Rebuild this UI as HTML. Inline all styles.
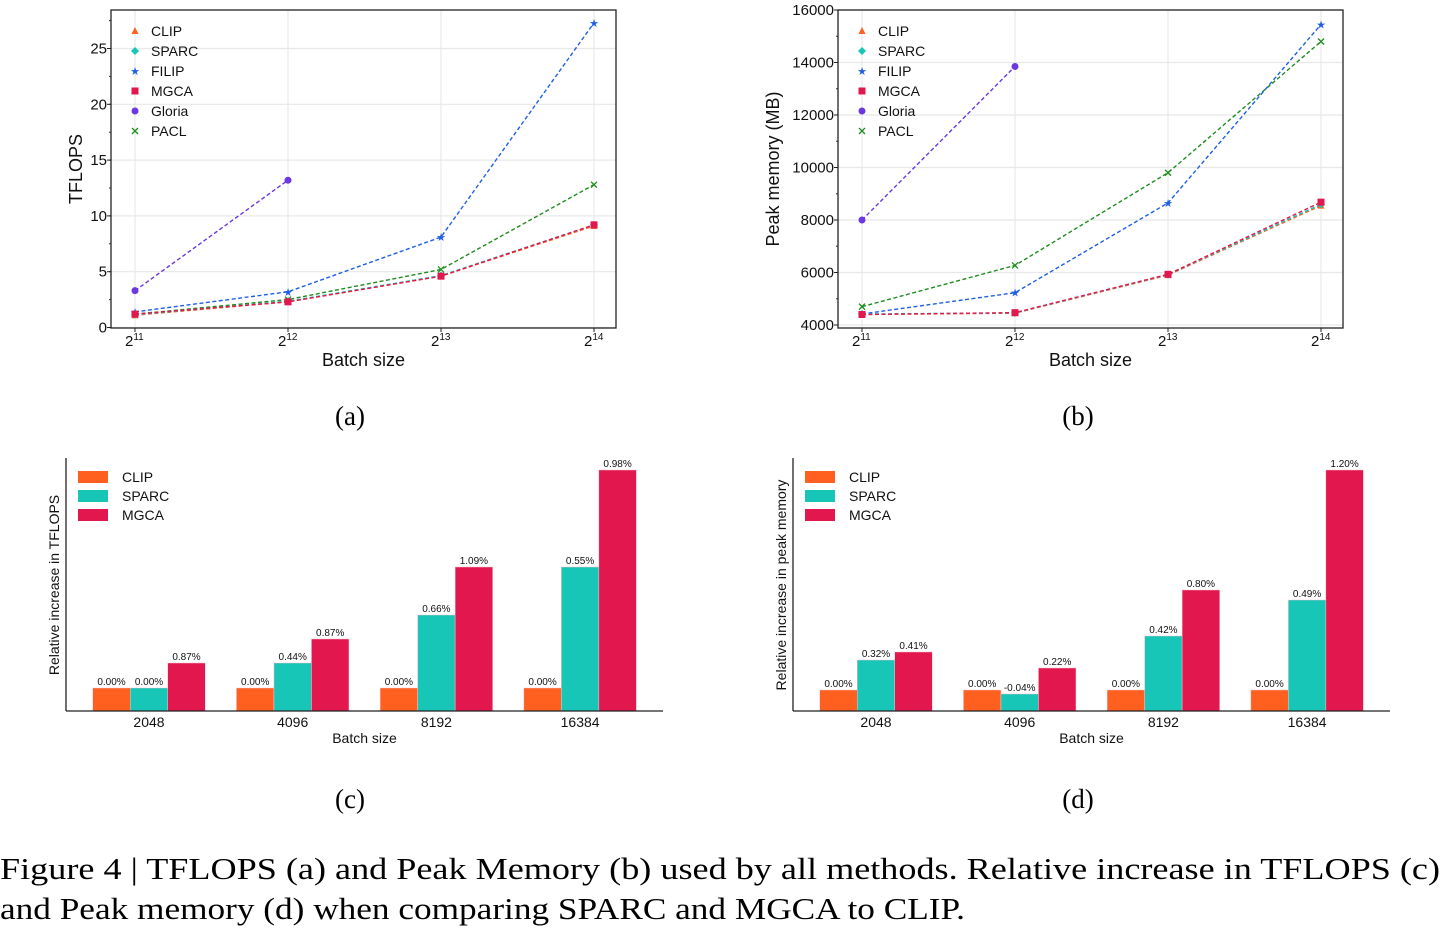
<!DOCTYPE html>
<html><head><meta charset="utf-8"><style>
html,body{margin:0;padding:0;background:#fff;}
svg{display:block;font-family:"Liberation Sans",sans-serif;}
</style></head><body>
<svg id="fig" width="1441" height="929" viewBox="0 0 1441 929" xmlns="http://www.w3.org/2000/svg">
<text x="350" y="425" font-family="Liberation Serif" font-size="27" text-anchor="middle">(a)</text>
<text x="1078" y="425" font-family="Liberation Serif" font-size="27" text-anchor="middle">(b)</text>
<text x="350" y="808" font-family="Liberation Serif" font-size="27" text-anchor="middle">(c)</text>
<text x="1078" y="808" font-family="Liberation Serif" font-size="27" text-anchor="middle">(d)</text>
<text x="0" y="879" font-family="Liberation Serif" font-size="31" textLength="1440" lengthAdjust="spacingAndGlyphs">Figure 4 | TFLOPS (a) and Peak Memory (b) used by all methods. Relative increase in TFLOPS (c)</text>
<text x="0" y="919" font-family="Liberation Serif" font-size="31" textLength="965" lengthAdjust="spacingAndGlyphs">and Peak memory (d) when comparing SPARC and MGCA to CLIP.</text>
</svg>
<script>
// ---- line chart data ----
const batchExp = [11, 12, 13, 14];
const methods = ["CLIP", "SPARC", "FILIP", "MGCA", "Gloria", "PACL"];
const tflopsCLIP = [1.1, 2.3, 4.6, 9.1];
const tflopsSPARC = [1.15, 2.35, 4.65, 9.2];
const tflopsFILIP = [1.4, 3.2, 8.1, 27.3];
const tflopsMGCA = [1.2, 2.3, 4.6, 9.2];
const tflopsGloria = [3.3, 13.2];
const tflopsPACL = [1.2, 2.5, 5.2, 12.8];
const memCLIP = [4400, 4450, 5900, 8550];
const memSPARC = [4420, 4460, 5920, 8600];
const memFILIP = [4420, 5230, 8650, 15450];
const memMGCA = [4400, 4470, 5930, 8680];
const memGloria = [8000, 13850];
const memPACL = [4700, 6270, 9800, 14800];
const tflopsTicks = [0, 5, 10, 15, 20, 25];
const memTicks = [4000, 6000, 8000, 10000, 12000, 14000, 16000];
// ---- bar chart data ----
const barCats = ["2048", "4096", "8192", "16384"];
const barSeries = ["CLIP", "SPARC", "MGCA"];
const cBarCLIP = [23, 23, 23, 23];
const cBarSPARC = [23, 48, 96, 144];
const cBarMGCA = [48, 72, 144, 241];
const cLblCLIP = ["0.00%", "0.00%", "0.00%", "0.00%"];
const cLblSPARC = ["0.00%", "0.44%", "0.66%", "0.55%"];
const cLblMGCA = ["0.87%", "0.87%", "1.09%", "0.98%"];
const dBarCLIP = [21, 21, 21, 21];
const dBarSPARC = [51, 17, 75, 111];
const dBarMGCA = [59, 43, 121, 241];
const dLblCLIP = ["0.00%", "0.00%", "0.00%", "0.00%"];
const dLblSPARC = ["0.32%", "-0.04%", "0.42%", "0.49%"];
const dLblMGCA = ["0.41%", "0.22%", "0.80%", "1.20%"];

const NS = "http://www.w3.org/2000/svg";
const svg = document.getElementById("fig");
const colors = {CLIP:"#ff5f1f", SPARC:"#17c6b6", FILIP:"#1f5fe6", MGCA:"#e2174e", Gloria:"#6b38e2", PACL:"#1f8c1f"};
function el(tag, attrs, parent, text) {
  const e = document.createElementNS(NS, tag);
  for (const k in attrs) e.setAttribute(k, attrs[k]);
  if (text !== undefined) e.textContent = text;
  (parent || svg).appendChild(e);
  return e;
}
function marker(g, type, x, y, c) {
  let m;
  if (type === "CLIP") m = el("polygon", {points:`${x},${y-4} ${x-3.5},${y+3} ${x+3.5},${y+3}`, fill:c}, g);
  else if (type === "SPARC") m = el("polygon", {points:`${x},${y-4} ${x+4},${y} ${x},${y+4} ${x-4},${y}`, fill:c}, g);
  else if (type === "FILIP") m = el("text", {x:x, y:y+4, "font-size":"11", "text-anchor":"middle", fill:c}, g, "★");
  else if (type === "MGCA") m = el("rect", {x:x-3.5, y:y-3.5, width:7, height:7, fill:c}, g);
  else if (type === "Gloria") m = el("circle", {cx:x, cy:y, r:3.5, fill:c}, g);
  else { m = el("path", {d:`M${x-3},${y-3}L${x+3},${y+3}M${x+3},${y-3}L${x-3},${y+3}`, stroke:c, "stroke-width":1.3}, g); }
  return m;
}
function lineChart(cfg) {
  const g = el("g", {});
  
  
  const {x0, x1, y0, y1, xs, ymin} = cfg;
  const sx = e => xs[0] + (e - 11) * (xs[1] - xs[0]);
  const Y = v => cfg.yBase - (v - ymin) * cfg.pxPerUnit;
  batchExp.forEach(e => el("line", {x1:sx(e), x2:sx(e), y1:y0, y2:y1, stroke:"#e8e8e8", "stroke-width":1.2}, g));
  cfg.ticks.forEach(t => { const y = Y(t); if (y >= y0 - 1) el("line", {x1:x0, x2:x1, y1:y, y2:y, stroke:"#e8e8e8", "stroke-width":1.2}, g); });
  for (let i = 0; i < cfg.ticks.length * 2; i++) {
    const v = cfg.ticks[0] + i * (cfg.ticks[1] - cfg.ticks[0]) / 2;
    const y = Y(v); if (y < y0) break;
    el("line", {x1:x0 - 2, x2:x0, y1:y, y2:y, stroke:"#333", "stroke-width":1}, g);
  }
  el("rect", {x:x0, y:y0, width:x1 - x0, height:y1 - y0, fill:"none", stroke:"#222", "stroke-width":1.3}, g);
  cfg.ticks.forEach(t => {
    const y = Y(t);
    el("line", {x1:x0 - 4, x2:x0, y1:y, y2:y, stroke:"#222"}, g);
    const tx = el("text", {x:x0 - 4, y:y + 5, "font-size":"15", "text-anchor":"end", fill:"#111"}, g, String(t));
    
    
  });
  batchExp.forEach(e => {
    el("line", {x1:sx(e), x2:sx(e), y1:y1, y2:y1 + 4, stroke:"#222"}, g);
    const tx = el("text", {x:sx(e) - 10, y:y1 + 18, "font-size":"15", fill:"#111"}, g);
    
    
    el("tspan", {}, tx, "2");
    el("tspan", {dy:-6, "font-size":"10"}, tx, String(e));
  });
  const xt = el("text", {x:(x0 + x1) / 2, y:y1 + 38, "font-size":"18", "text-anchor":"middle", fill:"#111"}, g, "Batch size");
  
  
  const yt = el("text", {transform:`translate(${cfg.ytX},${(y0 + y1) / 2}) rotate(-90)`, "font-size":"18", "text-anchor":"middle", fill:"#111"}, g, cfg.ytitle);
  
  
  const order = ["Gloria", "PACL", "FILIP", "CLIP", "SPARC", "MGCA"];
  order.forEach(m => {
    const vals = cfg.data[m];
    const pts = vals.map((v, i) => `${sx(batchExp[i])},${Y(v)}`).join(" ");
    const pl = el("polyline", {points:pts, fill:"none", stroke:colors[m], "stroke-width":1.4, "stroke-dasharray":"4,2.5"}, g);
    
    
    vals.forEach((v, i) => {
      const mk = marker(g, m, sx(batchExp[i]), Y(v), colors[m]);
      
      
    });
  });
  methods.forEach((m, i) => {
    const ly = cfg.legY + i * 20;
    const lg = el("g", {}, g);
    
    
    marker(lg, m, cfg.legX, ly, colors[m]);
    el("text", {x:cfg.legX + 16, y:ly + 5, "font-size":"14", fill:"#111"}, lg, m);
  });
}
lineChart({name:"tflops-chart", x0:111, x1:616, y0:10, y1:328, xs:[135, 288], ymin:0, yBase:327.5, pxPerUnit:11.16, ticks:tflopsTicks,
  ytitle:"TFLOPS", ytX:82, legX:135, legY:31,
  data:{CLIP:tflopsCLIP, SPARC:tflopsSPARC, FILIP:tflopsFILIP, MGCA:tflopsMGCA, Gloria:tflopsGloria, PACL:tflopsPACL}});
lineChart({name:"memory-chart", x0:838, x1:1343, y0:10, y1:328, xs:[862, 1015], ymin:4000, yBase:325, pxPerUnit:52.5 / 2000, ticks:memTicks,
  ytitle:"Peak memory (MB)", ytX:779, legX:862, legY:31,
  data:{CLIP:memCLIP, SPARC:memSPARC, FILIP:memFILIP, MGCA:memMGCA, Gloria:memGloria, PACL:memPACL}});

function barChart(cfg) {
  const g = el("g", {});
  
  
  const base = 711, bw = 37.5, gap = 143.7;
  const sx = i => cfg.c0 + i * gap;
  const sy = v => base - v;
  const series = [[cfg.clip, cfg.lclip, "CLIP"], [cfg.sparc, cfg.lsparc, "SPARC"], [cfg.mgca, cfg.lmgca, "MGCA"]];
  barCats.forEach((c, i) => {
    series.forEach(([vals, lbls, s], j) => {
      const x = sx(i) + (j - 1.5) * bw;
      const r = el("rect", {x:x, y:sy(vals[i]), width:bw, height:vals[i], fill:colors[s], stroke:"#f6c2cf", "stroke-width":0.5}, g);
      
      
      const t = el("text", {x:x + bw / 2, y:sy(vals[i]) - 3, "font-size":"10", "text-anchor":"middle", fill:"#111"}, g, lbls[i]);
      
      
    });
    const tl = el("text", {x:sx(i), y:727, "font-size":"14", "text-anchor":"middle", fill:"#111"}, g, c);
    
    
  });
  el("line", {x1:cfg.x0, x2:cfg.x1, y1:base, y2:base, stroke:"#222", "stroke-width":1.3}, g);
  el("line", {x1:cfg.x0, x2:cfg.x0, y1:458, y2:base, stroke:"#222", "stroke-width":1.3}, g);
  const xt = el("text", {x:(cfg.x0 + cfg.x1) / 2, y:743, "font-size":"14", "text-anchor":"middle", fill:"#111"}, g, "Batch size");
  
  
  const yt = el("text", {transform:`translate(${cfg.x0 - 7},${cfg.ytY}) rotate(-90)`, "font-size":"14", "text-anchor":"middle", fill:"#111"}, g, cfg.ytitle);
  
  
  barSeries.forEach((s, k) => {
    const lg = el("g", {}, g);
    
    
    el("rect", {x:cfg.x0 + 12, y:471 + k * 19, width:30, height:12, fill:colors[s]}, lg);
    el("text", {x:cfg.x0 + 56, y:482 + k * 19, "font-size":"14", fill:"#111"}, lg, s);
  });
}
barChart({name:"tflops-increase-chart", x0:66, x1:663, c0:149, clip:cBarCLIP, sparc:cBarSPARC, mgca:cBarMGCA,
  lclip:cLblCLIP, lsparc:cLblSPARC, lmgca:cLblMGCA, ytitle:"Relative increase in TFLOPS", ytY:585});
barChart({name:"memory-increase-chart", x0:793, x1:1390, c0:876, clip:dBarCLIP, sparc:dBarSPARC, mgca:dBarMGCA,
  lclip:dLblCLIP, lsparc:dLblSPARC, lmgca:dLblMGCA, ytitle:"Relative increase in peak memory", ytY:585});
</script>
</body></html>
